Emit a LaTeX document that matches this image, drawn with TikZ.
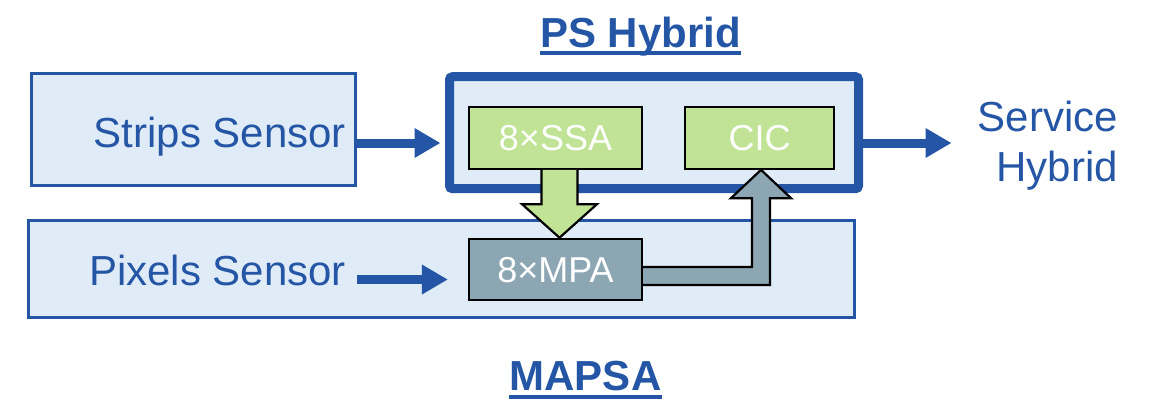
\documentclass[tikz,border=0pt]{standalone}
\usepackage{fontspec}
\setmainfont{Liberation Sans}
\usetikzlibrary{arrows.meta,calc}

\definecolor{psblue}{HTML}{2456A5}
\definecolor{pslight}{HTML}{DFEBF7}
\definecolor{chipgreen}{HTML}{C0E396}
\definecolor{chipgray}{HTML}{8CA7B3}

\tikzset{
  sensorbox/.style={draw=psblue, fill=pslight, line width=3pt, inner sep=0pt},
  hybridbox/.style={draw=psblue, fill=pslight, line width=9pt, inner sep=0pt, rounded corners=3pt},
  chip/.style={draw=black, line width=2.2pt, inner sep=0pt, text=white,
    font=\fontsize{36}{43}\selectfont, text height=25.8pt, text depth=0pt},
  biglabel/.style={text=psblue, inner sep=0pt, font=\fontsize{42}{50}\selectfont},
  titlelabel/.style={text=psblue, inner sep=0pt, font=\fontsize{42}{50}\selectfont\bfseries, text depth=0pt},
  uline/.style={draw=psblue, line width=4pt},
  flow/.style={draw=psblue, line width=9pt, -{Triangle[length=26pt,width=28pt]}},
  blockarrow/.style={draw=black, line width=2.2pt, line join=miter},
}

\begin{document}
\begin{tikzpicture}[x=1pt, y=-1pt]
\useasboundingbox (0,0) rectangle (1157,400);

% sensor and hybrid boxes
\node[sensorbox, minimum width=826pt, minimum height=97pt] (mapsa) at (441.5,269) {};
\node[sensorbox, minimum width=324pt, minimum height=112pt] (strips) at (193.5,129.5) {};
\node[hybridbox, minimum width=409pt, minimum height=112pt] (ps) at (654,132.7) {};

% readout chips
\node[chip, fill=chipgreen, minimum width=173pt, minimum height=61.7pt] (ssa) at (555.5,137.9) {8×SSA};
\node[chip, fill=chipgreen, minimum width=149pt, minimum height=61.7pt] (cic) at (759.5,137.9) {CIC};
\node[chip, fill=chipgray, minimum width=173pt, minimum height=61.2pt] (mpa) at (555.5,269.4) {8×MPA};

% labels
\node[biglabel, anchor=base east] (stripslabel) at (346,147) {Strips Sensor};
\node[biglabel, anchor=base east] (pixlabel) at (346,285) {Pixels Sensor};
\node[biglabel, anchor=east, align=right] (svc) at (1118,146) {Service\\Hybrid};

% titles
\node[titlelabel, anchor=base] (pstitle) at (640.5,47) {PS Hybrid};
\node[titlelabel, anchor=base] (mapsatitle) at (585.5,390) {MAPSA};
\draw[uline] ([yshift=-6pt]pstitle.base west) -- ([yshift=-6pt]pstitle.base east);
\draw[uline] ([yshift=-7pt]mapsatitle.base west) -- ([yshift=-7pt]mapsatitle.base east);

% data flow arrows
\coordinate (sa) at ([yshift=-13.5pt]strips.east);
\draw[flow, shorten >=4.5pt] (sa) -- (sa -| ps.west);
\coordinate (pa) at ([xshift=11pt,yshift=5.5pt]pixlabel.base east);
\draw[flow, shorten >=20pt] (pa) -- (pa -| mpa.west);
\coordinate (sb) at ([yshift=-10.3pt]ps.east);
\draw[flow, shorten >=26pt] (sb) -- (sb -| svc.west);

% SSA -> MPA block arrow
\coordinate (ga) at ($(ssa.south)+(4,0)$);
\filldraw[blockarrow, fill=chipgreen]
  ($(ga)+(-18,0)$) -- ($(ga)+(-18,34.3)$) -- ($(ga)+(-37.5,34.3)$)
  -- (ga |- mpa.north)
  -- ($(ga)+(37.5,34.3)$) -- ($(ga)+(18,34.3)$) -- ($(ga)+(18,0)$);

% MPA -> CIC block arrow
\coordinate (gt) at ($(cic.south)+(1.5,0)$);
\coordinate (gs) at ($(mpa.east)+(0,-2.4)$);
\filldraw[blockarrow, fill=chipgray]
  (gs) -- ($(gt |- gs)+(-9,0)$) -- ($(gt)+(-9,28.3)$) -- ($(gt)+(-30,28.3)$)
  -- (gt)
  -- ($(gt)+(30,28.3)$) -- ($(gt)+(9,28.3)$) -- ($(gt |- gs)+(9,18)$) -- ($(gs)+(0,18)$);
\end{tikzpicture}
\end{document}
